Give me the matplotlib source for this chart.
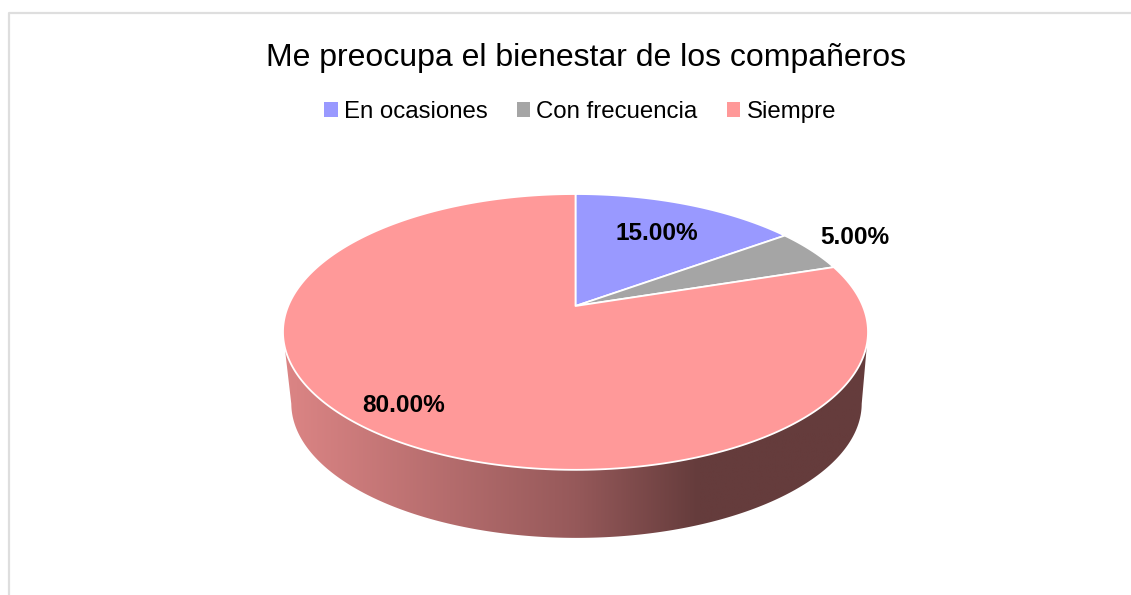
import matplotlib
matplotlib.use('Agg')
import matplotlib.pyplot as plt
from matplotlib.colors import LinearSegmentedColormap
from matplotlib.patches import Patch, Polygon
import numpy as np

plt.rcParams['font.family'] = ['Liberation Sans', 'DejaVu Sans']

title = 'Me preocupa el bienestar de los compañeros'
categories = ['En ocasiones', 'Con frecuencia', 'Siempre']
values = [15.0, 5.0, 80.0]
colors = ['#9999FF', '#A5A5A5', '#FF9999']
label_pos = [(657, 233), (855, 238), (404, 405)]


# circle -> tilted pie, the tilt moves the apex away from the ellipse centre
def project(theta, cx=575.5, apex=306.0, r=287.3, a=-75.5, c=0.188):
    x, y = np.sin(theta), np.cos(theta)
    den = 1 + c * y
    return cx + r * x / den, (a * y + apex) / den


fig = plt.figure(figsize=(11.31, 5.95), dpi=100)
ax = fig.add_axes([0, 0, 1, 1])
ax.set_xlim(0, 1131)
ax.set_ylim(595, 0)
ax.axis('off')

# frame of the chart area, runs off the right and bottom of the picture
ax.plot([9, 9, 1131], [595, 12.5, 12.5], color='#DEDEDE', lw=1.6)

# side wall
t = np.linspace(0, 2 * np.pi, 721)
tx, ty = project(t)
bx = 576.5 + (tx - 575.5) * 0.975
by = 403.5 + (ty - 332) * 0.975
left, right = np.argmin(tx), np.argmax(tx)
bottom = by > 403.5
order = np.argsort(bx[bottom])
wall = np.vstack([
    [tx[left], ty[left]],
    np.column_stack([bx[bottom][order], by[bottom][order]]),
    [tx[right], ty[right]],
])
cmap = LinearSegmentedColormap.from_list('wall', [(0, '#DC8585'), (0.5, '#96595A'), (0.71, '#653C3C'), (1, '#653C3C')])
img = ax.imshow(np.linspace(0, 1, 256)[None, :], extent=[283, 868, 540, 330], aspect='auto', cmap=cmap, zorder=1)
img.set_clip_path(Polygon(wall, transform=ax.transData))
ax.set_xlim(0, 1131)
ax.set_ylim(595, 0)

# top of the pie
start = 0.0
for value, color in zip(values, colors):
    end = start + value / sum(values) * 2 * np.pi
    th = np.linspace(start, end, 300)
    x, y = project(th)
    pts = np.vstack([[575.5, 306.0], np.column_stack([x, y])])
    ax.add_patch(Polygon(pts, closed=True, facecolor=color, edgecolor='white', lw=1.3, zorder=2, joinstyle='round'))
    start = end

for value, pos in zip(values, label_pos):
    ax.text(pos[0], pos[1], f'{value:.2f}%', ha='center', va='center', fontsize=17.6, fontweight='bold', color='black', zorder=3)

ax.text(586.5, 58, title, ha='center', va='center', fontsize=23, color='black')

handles = [Patch(facecolor=c, edgecolor='none') for c in colors]
ax.legend(handles, categories, loc='center', bbox_to_anchor=(580 / 1131, 1 - 112 / 595), ncol=3, frameon=False,
          fontsize=17.3, handlelength=0.58, handleheight=0.58, handletextpad=0.25, columnspacing=1.2)

fig.savefig('out.png', dpi=100)
